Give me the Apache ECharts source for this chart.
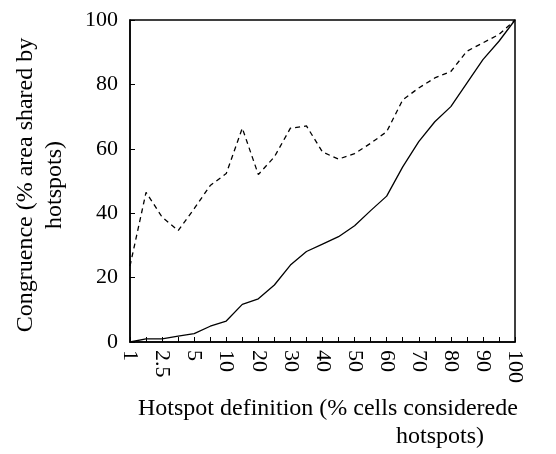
<!DOCTYPE html>
<html>
<head>
<meta charset="utf-8">
<script src="https://cdn.jsdelivr.net/npm/echarts@6/dist/echarts.min.js"></script>
<style>html,body{margin:0;background:#fff}#c{width:556px;height:454px}</style>
</head>
<body>
<div id="c"></div>
<script>
// hotspot definitions (% cells); only every other one is labelled
var categories = ['1','1.75','2.5','3.75','5','7.5','10','15','20','25','30','35','40','45','50','55','60','65','70','75','80','85','90','95','100'];
var dashedValues = [23.6,46.5,38.8,34.6,41.4,48.6,52.3,66.4,52,57.5,66.4,67.1,59,56.8,58.5,61.7,65.3,75.2,78.9,82,84,90.3,92.9,95.5,100];
var solidValues = [0,1,1,1.8,2.6,4.9,6.5,11.7,13.4,17.7,23.9,28.1,30.4,32.7,36.1,40.8,45.3,54.4,62.2,68.4,73.1,80.4,87.7,93.4,100];
var yTicks = [0,20,40,60,80,100];

var font = 'Liberation Serif';
var chart = echarts.init(document.getElementById('c'));
chart.setOption({
	animation:false,
	textStyle:{fontFamily:font},
	grid:{left:130,right:41,top:20,bottom:112,show:true,borderColor:'#000',borderWidth:1.5},
	xAxis:{
		type:'category', data:categories, boundaryGap:false,
		axisLine:{lineStyle:{color:'#000',width:1.5}},
		axisTick:{inside:true,length:5,interval:0,lineStyle:{color:'#000'}},
		axisLabel:{rotate:-90,interval:1,color:'#000',fontSize:22,fontFamily:font,margin:8}
	},
	yAxis:{
		type:'value', min:0, max:100, interval:20,
		axisLine:{show:true,lineStyle:{color:'#000',width:1.5}},
		axisTick:{show:true,inside:true,length:5,lineStyle:{color:'#000'}},
		splitLine:{show:false},
		axisLabel:{color:'#000',fontSize:22,fontFamily:font,margin:12,
			formatter:function(v){return yTicks.indexOf(v)>=0?v:'';}}
	},
	series:[
		{type:'line',data:dashedValues,symbol:'none',lineStyle:{color:'#000',width:1.3,type:[5,4]}},
		{type:'line',data:solidValues,symbol:'none',lineStyle:{color:'#000',width:1.3}}
	],
	graphic:[
		{type:'text',left:138,top:397,style:{text:'Hotspot definition (% cells considerede',font:'24px "Liberation Serif"',fill:'#000'}},
		{type:'text',left:396,top:425,style:{text:'hotspots)',font:'24px "Liberation Serif"',fill:'#000'}},
		{type:'text',x:40,y:185,rotation:Math.PI/2,style:{text:'Congruence (% area shared by\nhotspots)',font:'24px "Liberation Serif"',fill:'#000',align:'center',verticalAlign:'middle',lineHeight:29}}
	]
});
</script>
</body>
</html>
